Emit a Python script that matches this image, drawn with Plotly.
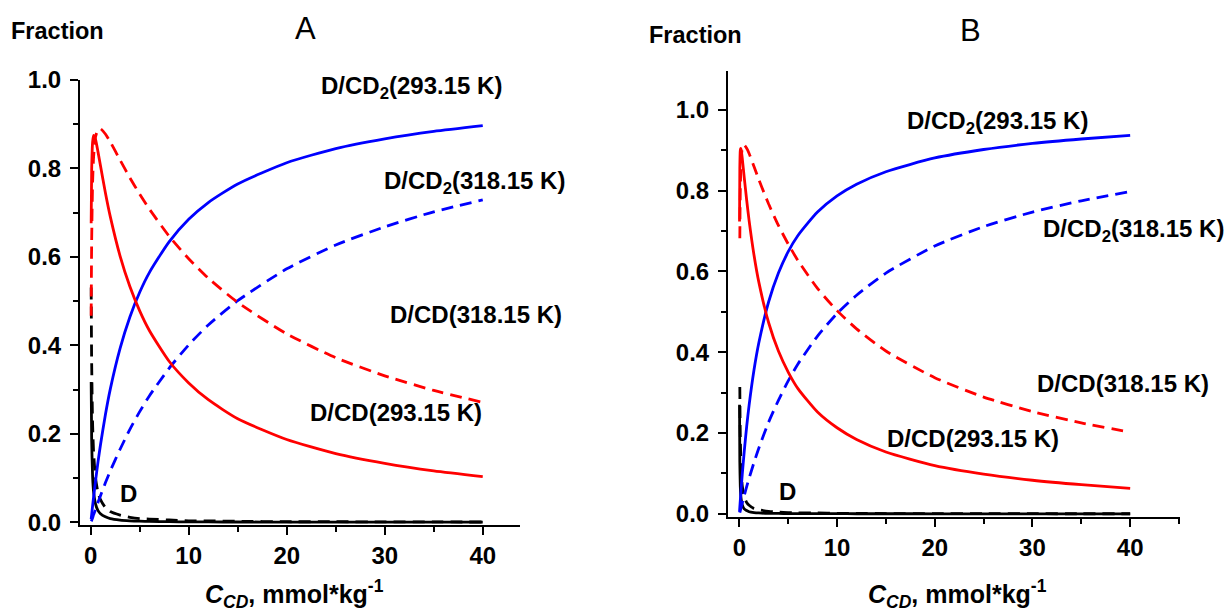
import plotly.graph_objects as go

# ---------------- data ----------------
# Panel A: both temperatures on the same grid
cA = [0.05, 0.1, 0.2, 0.3, 0.5, 0.75, 1, 1.5, 2, 3, 4, 5, 6, 8, 10, 12, 15, 20, 25, 30, 35, 40]
A_D_293 = [0.317, 0.187, 0.101, 0.068, 0.041, 0.026, 0.019, 0.012, 0.008, 0.0047, 0.0031, 0.0022,
           0.0017, 0.0011, 0.0007, 0.0005, 0.0004, 0.0002, 0.0001, 0.0001, 0.0001, 0.0001]
A_CD_293 = [0.676, 0.796, 0.861, 0.875, 0.865, 0.837, 0.806, 0.745, 0.691, 0.602, 0.533, 0.478,
            0.433, 0.364, 0.315, 0.277, 0.234, 0.187, 0.155, 0.133, 0.116, 0.103]
A_CD2_293 = [0.007, 0.017, 0.038, 0.057, 0.094, 0.137, 0.175, 0.243, 0.301, 0.393, 0.464, 0.520,
             0.565, 0.634, 0.685, 0.723, 0.765, 0.813, 0.845, 0.867, 0.884, 0.897]
A_D_318 = [0.531, 0.361, 0.219, 0.157, 0.099, 0.067, 0.051, 0.033, 0.024, 0.016, 0.011, 0.008,
           0.007, 0.005, 0.003, 0.003, 0.002, 0.001, 0.001, 0.0006, 0.0005, 0.0004]
A_CD_318 = [0.467, 0.635, 0.771, 0.827, 0.872, 0.888, 0.890, 0.878, 0.860, 0.819, 0.779, 0.742,
            0.708, 0.647, 0.596, 0.552, 0.497, 0.426, 0.372, 0.331, 0.298, 0.271]
A_CD2_318 = [0.002, 0.004, 0.010, 0.017, 0.029, 0.045, 0.060, 0.089, 0.116, 0.165, 0.210, 0.250,
             0.286, 0.348, 0.401, 0.446, 0.501, 0.573, 0.627, 0.668, 0.702, 0.729]

# Panel B, 293.15 K
cB_293 = [0.02, 0.05, 0.1, 0.15, 0.2, 0.3, 0.5, 0.75, 1, 1.5, 2, 3, 4, 5, 6, 8, 10, 12, 15, 20, 25, 30, 35, 40]
B_D_293 = [0.270, 0.128, 0.067, 0.045, 0.034, 0.022, 0.012, 0.008, 0.005, 0.003, 0.002, 0.001,
           0.0008, 0.0005, 0.0004, 0.0002, 0.0002, 0.0001, 0.0001, 0.0, 0.0, 0.0, 0.0, 0.0]
B_CD_293 = [0.724, 0.856, 0.900, 0.905, 0.900, 0.880, 0.833, 0.777, 0.726, 0.641, 0.573, 0.473,
            0.403, 0.351, 0.310, 0.252, 0.213, 0.184, 0.153, 0.119, 0.098, 0.083, 0.072, 0.063]
B_CD2_293 = [0.005, 0.016, 0.033, 0.050, 0.067, 0.098, 0.154, 0.216, 0.269, 0.356, 0.424, 0.525,
             0.596, 0.649, 0.689, 0.747, 0.787, 0.816, 0.847, 0.881, 0.902, 0.917, 0.928, 0.937]

# Panel B, 318.15 K
cB_318 = [0.05, 0.1, 0.2, 0.3, 0.5, 0.75, 1, 1.5, 2, 3, 4, 5, 6, 8, 10, 12, 15, 20, 25, 30, 35, 40]
B_D_318 = [0.314, 0.186, 0.102, 0.069, 0.042, 0.028, 0.021, 0.013, 0.010, 0.006, 0.004, 0.003,
           0.002, 0.002, 0.001, 0.001, 0.0006, 0.0004, 0.0003, 0.0002, 0.0001, 0.0001]
B_CD_318 = [0.682, 0.806, 0.881, 0.904, 0.913, 0.905, 0.892, 0.860, 0.827, 0.767, 0.714, 0.668,
            0.627, 0.558, 0.503, 0.458, 0.403, 0.337, 0.289, 0.253, 0.225, 0.202]
B_CD2_318 = [0.003, 0.008, 0.017, 0.027, 0.045, 0.067, 0.088, 0.127, 0.163, 0.227, 0.281, 0.329,
             0.371, 0.440, 0.496, 0.541, 0.596, 0.663, 0.711, 0.747, 0.775, 0.798]

x_ticks = [0, 10, 20, 30, 40]
y_ticks = [0.0, 0.2, 0.4, 0.6, 0.8, 1.0]
y_tick_labels = ["0.0", "0.2", "0.4", "0.6", "0.8", "1.0"]

# ---------------- figure ----------------
RED, BLUE, BLACK = "#FF0000", "#0000FF", "#000000"
DASH = "12px,7px"
LW = 2.8

fig = go.Figure()

def add(x, y, color, dash, xa, ya):
    fig.add_trace(go.Scatter(x=x, y=y, mode="lines", xaxis=xa, yaxis=ya,
                             line=dict(color=color, width=LW, dash=dash, shape="spline", smoothing=0.6),
                             showlegend=False, hoverinfo="skip"))

# Panel A
add(cA, A_D_318, BLACK, DASH, "x", "y")
add(cA, A_D_293, BLACK, "solid", "x", "y")
add(cA, A_CD2_318, BLUE, DASH, "x", "y")
add(cA, A_CD2_293, BLUE, "solid", "x", "y")
add(cA, A_CD_318, RED, DASH, "x", "y")
add(cA, A_CD_293, RED, "solid", "x", "y")
# Panel B
add(cB_318, B_D_318, BLACK, DASH, "x2", "y2")
add(cB_293, B_D_293, BLACK, "solid", "x2", "y2")
add(cB_318, B_CD2_318, BLUE, DASH, "x2", "y2")
add(cB_293, B_CD2_293, BLUE, "solid", "x2", "y2")
add(cB_318, B_CD_318, RED, DASH, "x2", "y2")
add(cB_293, B_CD_293, RED, "solid", "x2", "y2")

FONT = "Liberation Sans, Arial, sans-serif"
tickfont = dict(family=FONT, size=24, color="black", weight="bold")

W, H = 1230, 614

def px(x):
    return x / W

def py(r):
    # target screen row -> paper fraction (calibrated on the rendered page)
    p = (r - 14) / 0.96
    return 1 - p / H

def xaxis(domain, rng, anchor):
    return dict(domain=domain, range=rng, anchor=anchor, showline=True, linecolor="black",
                linewidth=2, ticks="outside", ticklen=8, tickwidth=2, tickcolor="black",
                tickvals=x_ticks, ticktext=[str(v) for v in x_ticks], tickfont=tickfont,
                showgrid=False, zeroline=False, ticklabelstandoff=0,
                minor=dict(dtick=5, tick0=0, ticks="outside", ticklen=5, tickwidth=2,
                           tickcolor="black", showgrid=False))

def yaxis(domain, rng, anchor):
    return dict(domain=domain, range=rng, anchor=anchor, showline=True, linecolor="black",
                linewidth=2, ticks="outside", ticklen=8, tickwidth=2, tickcolor="black",
                tickvals=y_ticks, ticktext=y_tick_labels, tickfont=tickfont,
                showgrid=False, zeroline=False, ticklabelstandoff=4,
                minor=dict(dtick=0.1, tick0=0, ticks="outside", ticklen=5, tickwidth=2,
                           tickcolor="black", showgrid=False))

fig.update_layout(
    width=W, height=H, margin=dict(l=0, r=0, t=0, b=0),
    paper_bgcolor="white", plot_bgcolor="white",
    xaxis=xaxis([px(80), px(520)], [-1.09, 43.8], "y"),
    yaxis=yaxis([py(525), py(80)], [-0.0075, 1.0], "x"),
    xaxis2=xaxis([px(728), px(1180)], [-1.16, 45.1], "y2"),
    yaxis2=yaxis([py(516.7), py(70.7)], [-0.0084, 1.097], "x2"),
)

labfont = dict(family=FONT, size=24, color="black", weight="bold")
fracfont = dict(family=FONT, size=23.5, color="black", weight="bold")
panfont = dict(family=FONT, size=31, color="black")
titfont = dict(family=FONT, size=25, color="black", weight="bold")
xtitle = "<i>C</i><sub><i>CD</i></sub>, mmol*kg<sup>-1</sup>"
annots = [
    ("A", 305, 28, panfont),
    ("B", 970, 30, panfont),
    ("Fraction", 57, 31, fracfont),
    ("Fraction", 696, 35, fracfont),
    ("D/CD<sub>2</sub>(293.15 K)", 411, 87, labfont),
    ("D/CD<sub>2</sub>(318.15 K)", 474, 182, labfont),
    ("D/CD(318.15 K)", 476, 314, labfont),
    ("D/CD(293.15 K)", 396, 412, labfont),
    ("D", 128, 493, labfont),
    ("D/CD<sub>2</sub>(293.15 K)", 997, 122, labfont),
    ("D/CD<sub>2</sub>(318.15 K)", 1133, 230, labfont),
    ("D/CD(318.15 K)", 1123, 383, labfont),
    ("D/CD(293.15 K)", 973, 438, labfont),
    ("D", 787, 491, labfont),
    (xtitle, 294, 593, titfont),
    (xtitle, 957, 593, titfont),
]
for text, x, y, f in annots:
    fig.add_annotation(text=text, x=px(x), y=py(y), xref="paper", yref="paper",
                       xanchor="center", yanchor="middle", showarrow=False, font=f)

fig.write_html("out.html")
